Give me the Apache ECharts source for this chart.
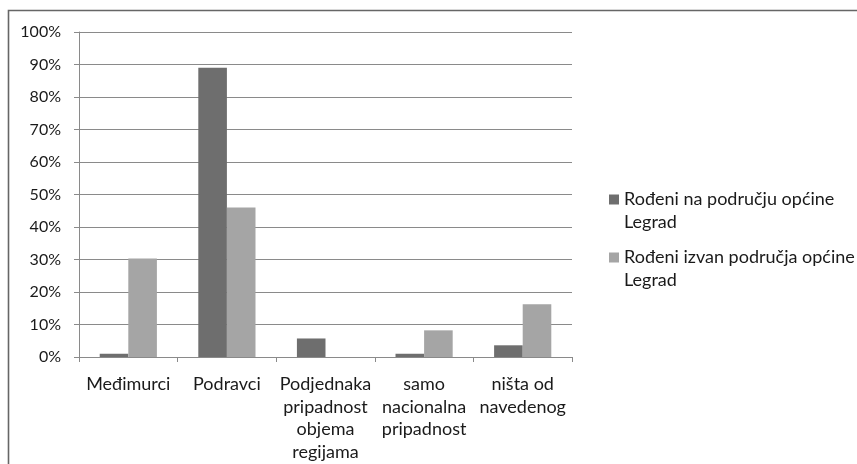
<!DOCTYPE html>
<html><head><meta charset="utf-8">
<script src="https://cdn.jsdelivr.net/npm/echarts@6/dist/echarts.min.js"></script>
<style>html,body{margin:0;padding:0;background:#fff}#c{width:857px;height:464px}</style>
</head><body><div id="c"></div>
<script>
const categories = ['Međimurci', 'Podravci', 'Podjednaka\npripadnost\nobjema\nregijama', 'samo\nnacionalna\npripadnost', 'ništa od\nnavedenog'];
const seriesNames = ['Rođeni na području općine\nLegrad', 'Rođeni izvan područja općine\nLegrad'];
const bornIn = [1, 89, 5.7, 1, 3.6];
const bornOut = [30.3, 46, 0, 8.2, 16.2];
const yTicks = [0, 10, 20, 30, 40, 50, 60, 70, 80, 90, 100];

const font = 'Lato';
const chart = echarts.init(document.getElementById('c'), null, {renderer: 'canvas'});
chart.setOption({
  animation: false,
  backgroundColor: '#fff',
  graphic: [{
    type: 'rect', shape: {x: 8.5, y: 10.5, width: 1000, height: 1000},
    style: {fill: 'none', stroke: '#666', lineWidth: 1.6}, silent: true
  }],
  grid: {left: 79, top: 32, right: 285, bottom: 107, containLabel: false},
  legend: {
    orient: 'vertical', left: 609, top: 165, padding: 0, itemWidth: 10, itemHeight: 10, itemGap: -11,
    icon: 'rect',
    formatter: function (n) { return ' \n' + n; },
    textStyle: {fontFamily: font, fontSize: 18, color: '#1a1a1a', lineHeight: 23},
    data: seriesNames
  },
  xAxis: {
    type: 'category', data: categories,
    axisLine: {lineStyle: {color: '#8a8a8a', width: 1}},
    axisTick: {show: true, length: 5, interval: 0, lineStyle: {color: '#8a8a8a'}},
    axisLabel: {interval: 0, fontFamily: font, fontSize: 18, color: '#1a1a1a', lineHeight: 22.5, margin: 16}
  },
  yAxis: {
    type: 'value', min: yTicks[0], max: yTicks[yTicks.length - 1], interval: 10,
    axisLine: {show: true, lineStyle: {color: '#8a8a8a', width: 1}},
    axisTick: {show: true, length: 5, lineStyle: {color: '#8a8a8a'}},
    splitLine: {lineStyle: {color: '#8a8a8a', width: 1}},
    axisLabel: {fontFamily: font, fontSize: 16, color: '#1a1a1a', margin: 18, formatter: '{value}%'}
  },
  series: [
    {name: seriesNames[0], type: 'bar', data: bornIn, barGap: '0%', barCategoryGap: '42%', itemStyle: {color: '#6e6e6e'}},
    {name: seriesNames[1], type: 'bar', data: bornOut, barGap: '0%', barCategoryGap: '42%', itemStyle: {color: '#a5a5a5'}}
  ]
});
</script></body></html>
